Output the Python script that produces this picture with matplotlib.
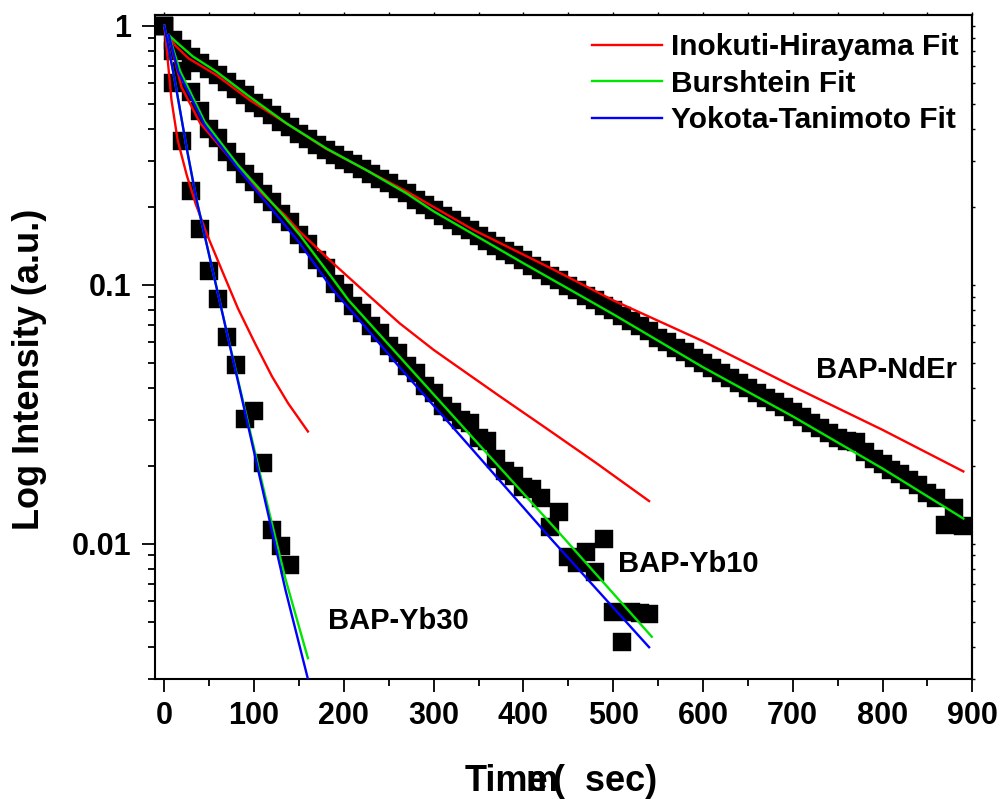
import numpy as np
import matplotlib
matplotlib.use("Agg")
import matplotlib.pyplot as plt
from matplotlib.ticker import FixedLocator, NullFormatter, FixedFormatter

plt.rcParams['font.family'] = ['Liberation Sans', 'DejaVu Sans']
plt.rcParams['font.weight'] = 'bold'

# ---------------- data ----------------
t_nder = np.arange(0, 900, 10)
i_nder = [1.00, 0.88, 0.81, 0.76, 0.715, 0.68, 0.645, 0.605, 0.57, 0.54,
          0.505, 0.48, 0.452, 0.425, 0.405, 0.382, 0.365, 0.346, 0.33, 0.318,
          0.302, 0.292, 0.279, 0.268, 0.256, 0.246, 0.234, 0.225, 0.213, 0.203,
          0.194, 0.184, 0.177, 0.168, 0.162, 0.154, 0.148, 0.141, 0.135, 0.130,
          0.124, 0.118, 0.114, 0.108, 0.104, 0.0985, 0.0950, 0.0905, 0.0870, 0.0828,
          0.0795, 0.0760, 0.0722, 0.0690, 0.0660, 0.0625, 0.0600, 0.0570, 0.0548, 0.0520,
          0.0498, 0.0478, 0.0455, 0.0437, 0.0418, 0.0400, 0.0382, 0.0366, 0.0352, 0.0336,
          0.0322, 0.0307, 0.0293, 0.0280, 0.0268, 0.0256, 0.0250, 0.0246, 0.0225, 0.0213,
          0.0203, 0.0193, 0.0185, 0.0176, 0.0168, 0.0157, 0.0150, 0.0118, 0.0137, 0.0117]

t_yb10 = np.arange(0, 550, 10)
i_yb10 = [1.0, 0.80, 0.67, 0.556, 0.47, 0.40, 0.368, 0.325, 0.297, 0.268,
          0.25, 0.224, 0.208, 0.188, 0.175, 0.155, 0.143, 0.125, 0.116, 0.101,
          0.093, 0.0825, 0.078, 0.0690, 0.0650, 0.0580, 0.0545, 0.0485, 0.0455, 0.0405,
          0.0382, 0.0340, 0.0322, 0.0300, 0.0292, 0.0255, 0.0250, 0.0212, 0.0190, 0.0182,
          0.0166, 0.0162, 0.0150, 0.0116, 0.0132, 0.0089, 0.0084, 0.0093, 0.0078, 0.0104,
          0.00545, 0.00417, 0.00543, 0.00540, 0.00534]

t_yb30 = np.arange(0, 150, 10)
i_yb30 = [1.0, 0.60, 0.36, 0.231, 0.164, 0.113, 0.088, 0.0626, 0.049, 0.0303,
          0.0326, 0.0204, 0.0113, 0.0098, 0.0083]

# fit curves
ih_nder_x = [5, 12, 27, 58, 95, 180, 270, 344, 430, 500, 600, 700, 800, 890]
ih_nder_y = [0.92, 0.84, 0.748, 0.645, 0.517, 0.335, 0.229, 0.163, 0.116, 0.087,
             0.0605, 0.0405, 0.0275, 0.019]
bu_nder_x = [5, 15, 32, 58, 95, 136, 181, 225, 270, 300, 400, 500, 600, 700, 800, 890]
bu_nder_y = [0.92, 0.855, 0.76, 0.665, 0.532, 0.42, 0.335, 0.277, 0.225, 0.192,
             0.121, 0.0769, 0.048, 0.031, 0.0195, 0.0125]

ih_yb10_x = [5, 19, 40, 64, 100, 134, 151, 188, 225, 262, 300, 337, 374, 426, 480, 540]
ih_yb10_y = [0.92, 0.581, 0.42, 0.336, 0.24, 0.186, 0.16, 0.121, 0.0926, 0.071,
             0.056, 0.0455, 0.037, 0.0278, 0.0206, 0.0146]
bu_yb10_x = [5, 17.5, 45, 82, 101, 132, 151, 188, 205, 339, 442, 543]
bu_yb10_y = [0.92, 0.67, 0.426, 0.29, 0.245, 0.186, 0.1555, 0.105, 0.0873, 0.0267,
             0.0108, 0.00437]
yt_yb10_x = [5, 15.6, 45, 82, 125, 151, 188, 225, 262, 322, 430, 540]
yt_yb10_y = [0.92, 0.664, 0.413, 0.281, 0.186, 0.1445, 0.0954, 0.068, 0.048, 0.028,
             0.0105, 0.00398]

ih_yb30_x = [0, 3.5, 8, 15, 25, 35, 48, 64, 82, 101, 120, 138, 160]
ih_yb30_y = [1.0, 0.76, 0.517, 0.36, 0.265, 0.205, 0.155, 0.114, 0.081, 0.0594,
             0.0442, 0.0348, 0.0271]
bu_yb30_x = [0, 12, 25, 36, 50, 70, 90, 112, 135, 160]
bu_yb30_y = [1.0, 0.608, 0.336, 0.212, 0.13, 0.0648, 0.0328, 0.0155, 0.0073, 0.00361]
yt_yb30_x = [0, 12, 25, 36, 50, 70, 90, 112, 135, 160]
yt_yb30_y = [1.0, 0.608, 0.336, 0.212, 0.13, 0.0645, 0.0321, 0.0148, 0.00662, 0.0030]

x_ticks = [0, 100, 200, 300, 400, 500, 600, 700, 800, 900]
y_ticks = [1, 0.1, 0.01]
y_tick_labels = ['1', '0.1', '0.01']
legend_labels = ['Inokuti-Hirayama Fit', 'Burshtein Fit', 'Yokota-Tanimoto Fit']
sample_names = ['BAP-NdEr', 'BAP-Yb10', 'BAP-Yb30']

# ---------------- figure ----------------
W, H = 1006, 799
fig = plt.figure(figsize=(W / 100, H / 100), dpi=100)
ax = fig.add_axes([155.3 / W, 1 - 679 / H, (972.3 - 155.3) / W, (679 - 15) / H])
ax.set_yscale('log')
ax.set_xlim(-10, 900)
ax.set_ylim(0.003, 1.1)

RED, GREEN, BLUE = '#ff0000', '#00e600', '#0000ff'
mk = dict(marker='s', ms=12.7, color='black', mec='black', mew=0.3, ls='none', zorder=2)
ax.plot(t_nder, i_nder, **mk)
ax.plot(t_yb10, i_yb10, **mk)
ax.plot(t_yb30, i_yb30, **mk)

lw = 1.7
h1, = ax.plot(ih_nder_x, ih_nder_y, color=RED, lw=lw, zorder=3)
h2, = ax.plot(bu_nder_x, bu_nder_y, color=GREEN, lw=lw, zorder=4)
ax.plot(ih_yb10_x, ih_yb10_y, color=RED, lw=lw, zorder=3)
ax.plot(bu_yb10_x, bu_yb10_y, color=GREEN, lw=lw, zorder=4)
h3, = ax.plot(yt_yb10_x, yt_yb10_y, color=BLUE, lw=lw, zorder=5)
ax.plot(ih_yb30_x, ih_yb30_y, color=RED, lw=lw, zorder=3)
ax.plot(bu_yb30_x, bu_yb30_y, color=GREEN, lw=lw, zorder=4)
ax.plot(yt_yb30_x, yt_yb30_y, color=BLUE, lw=lw, zorder=5)

# ticks
ax.xaxis.set_major_locator(FixedLocator(x_ticks))
ax.xaxis.set_minor_locator(FixedLocator(np.arange(50, 900, 100)))
ax.yaxis.set_major_locator(FixedLocator(y_ticks))
ax.yaxis.set_major_formatter(FixedFormatter(y_tick_labels))
minor_y = [m * 10.0 ** e for e in (-3, -2, -1) for m in range(2, 10)]
ax.yaxis.set_minor_locator(FixedLocator(minor_y))
ax.yaxis.set_minor_formatter(NullFormatter())
ax.tick_params(which='major', length=9.5, width=1.3, direction='out',
               labelsize=22, top=False, right=False)
ax.tick_params(which='minor', length=5, width=1.3, direction='out', top=False, right=False)
ax.tick_params(axis='x', which='major', pad=6)
ax.tick_params(axis='y', which='major', pad=8)
for lab in ax.get_xticklabels() + ax.get_yticklabels():
    lab.set_fontweight('bold')
for s in ax.spines.values():
    s.set_linewidth(1.5)

sx = ax.secondary_xaxis('top')
sx.xaxis.set_major_locator(FixedLocator(list(np.arange(0, 901, 50))))
sx.tick_params(length=2.5, width=1.0, direction='out', labeltop=False)
sx.spines['top'].set_linewidth(1.5)
sy = ax.secondary_yaxis('right')
sy.yaxis.set_major_locator(FixedLocator(y_ticks + minor_y))
sy.yaxis.set_minor_locator(FixedLocator([]))
sy.tick_params(which='both', length=2.5, width=1.0, direction='out', labelright=False)
sy.spines['right'].set_linewidth(1.5)

# legend
leg = ax.legend([h1, h2, h3], legend_labels, loc='upper left',
                bbox_to_anchor=(592 / W, 1 - 33 / H), bbox_transform=fig.transFigure,
                frameon=False, fontsize=21.5, handlelength=2.35, handletextpad=0.3,
                labelspacing=0.29, borderpad=0, borderaxespad=0)
for txt in leg.get_texts():
    txt.set_fontweight('bold')

# sample annotations
ax.text(725.7, 0.0436, sample_names[0], fontsize=21, fontweight='bold', ha='left', va='baseline')
ax.text(505.7, 0.00778, sample_names[1], fontsize=21, fontweight='bold', ha='left', va='baseline')
ax.text(182.3, 0.00466, sample_names[2], fontsize=21, fontweight='bold', ha='left', va='baseline')

# axis labels
fig.text(30 / W, 1 - 369 / H, 'Log Intensity (a.u.)', rotation=90, fontsize=26,
         fontweight='bold', ha='center', va='center')
fs = 26
fig.text(465 / W, 1 - 791 / H, 'Time', fontsize=fs, fontweight='bold', ha='left', va='baseline')
fig.text(526 / W, 1 - 791 / H, 'm', fontsize=fs, fontweight='bold', ha='left', va='baseline')
fig.text(553 / W, 1 - 791 / H, '(  sec)', fontsize=fs, fontweight='bold', ha='left', va='baseline')

fig.savefig('out.png', dpi=100)
